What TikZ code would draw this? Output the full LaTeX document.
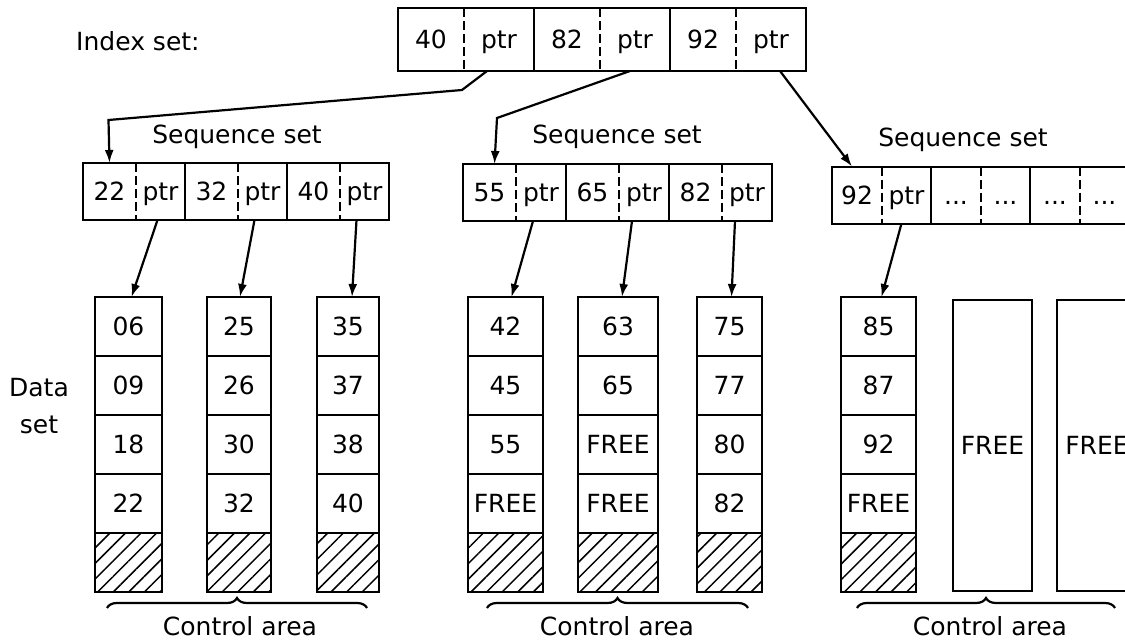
\documentclass[tikz,border=0pt]{standalone}
\usepackage{fontspec}
\setmainfont{DejaVu Sans}
\usetikzlibrary{arrows.meta,positioning,patterns.meta,decorations.pathreplacing}
\tikzset{
  every node/.style={font=\fontsize{25}{30}\selectfont},
  setlabel/.style={font=\fontsize{25}{37}\selectfont,align=center,inner sep=0pt},
  keycell/.style={inner sep=0pt,outer sep=0pt,minimum height=57pt,text height=18pt,text depth=0pt},
  recbox/.style={line width=2pt},
  divider/.style={line width=1.3pt,dash pattern=on 9pt off 4pt},
  datacell/.style={draw,line width=2pt,inner sep=0pt,outer sep=0pt,minimum height=59pt,text height=18pt,text depth=0pt},
  ctrlcell/.style={datacell,pattern={Lines[angle=45,distance=11pt,line width=1.5pt]}},
  freecell/.style={datacell,minimum height=291pt},
  ptrarrow/.style={-{Latex[length=13pt,width=9pt]},line width=2.2pt},
  ctrlbrace/.style={decorate,decoration={brace,amplitude=10pt},line width=2.2pt},
}
% key | ptr record: name, x, y, key width, ptr width, key, ptr text
\newcommand{\record}[7]{%
  \node[keycell,minimum width=#4,anchor=west] (#1k) at (#2,#3) {#6};
  \node[keycell,minimum width=#5,right=0pt of #1k] (#1p) {#7};
  \draw[recbox] (#1k.north west) rectangle (#1p.south east);
  \draw[divider] (#1k.north east) -- (#1k.south east);
}
% data column: name, x, width, four records, then the control part
\newcommand{\datacol}[7]{%
  \node[datacell,minimum width=#3] (#1-1) at (#2,326.5) {#4};
  \node[datacell,minimum width=#3,below=0pt of #1-1] (#1-2) {#5};
  \node[datacell,minimum width=#3,below=0pt of #1-2] (#1-3) {#6};
  \node[datacell,minimum width=#3,below=0pt of #1-3] (#1-4) {#7};
  \node[ctrlcell,minimum width=#3,below=0pt of #1-4] (#1-c) {};
}

\begin{document}
\begin{tikzpicture}[x=1pt,y=-1pt]
  \useasboundingbox (0,0) rectangle (1125,643);
  \clip (0,0) rectangle (1125,643);

  % Index set
  \node[setlabel,anchor=base west] (ixlabel) at (76,50) {Index set:};
  \begin{scope}[keycell/.append style={minimum height=63pt}]
    \record{ix1}{398}{39.5}{66}{70}{40}{ptr}
    \record{ix2}{534}{39.5}{66}{70}{82}{ptr}
    \record{ix3}{670}{39.5}{66}{70}{92}{ptr}
  \end{scope}

  % Sequence sets
  \node[setlabel,anchor=base] (salabel) at (237,143) {Sequence set};
  \record{sa1}{83}{191.5}{53}{49}{22}{ptr}
  \record{sa2}{185}{191.5}{53}{49}{32}{ptr}
  \record{sa3}{287}{191.5}{53}{49}{40}{ptr}

  \node[setlabel,anchor=base] (sblabel) at (617,143) {Sequence set};
  \record{sb1}{463}{192.5}{53}{50}{55}{ptr}
  \record{sb2}{566}{192.5}{53}{50}{65}{ptr}
  \record{sb3}{669}{192.5}{53}{50}{82}{ptr}

  \node[setlabel,anchor=base] (sclabel) at (963,146) {Sequence set};
  \record{sc1}{832}{195}{50}{49}{92}{ptr}
  \record{sc2}{931}{195}{50}{49}{...}{...}
  \record{sc3}{1030}{195}{50}{49}{...}{...}

  % Data set
  \node[setlabel] (dslabel) at (39,406) {Data\\set};
  \datacol{da}{128.5}{67}{06}{09}{18}{22}
  \datacol{db}{239}{64}{25}{26}{30}{32}
  \datacol{dc}{348}{62}{35}{37}{38}{40}
  \datacol{dd}{505.5}{75}{42}{45}{55}{FREE}
  \datacol{de}{618}{80}{63}{65}{FREE}{FREE}
  \datacol{df}{729.5}{65}{75}{77}{80}{82}
  \datacol{dg}{878.5}{75}{85}{87}{92}{FREE}
  \node[freecell,minimum width=79pt] (dh) at (992.5,445.5) {FREE};
  \node[freecell,minimum width=80pt] (di) at (1097,445.5) {FREE};

  % pointers
  \coordinate (kneeA) at (108.5,120);
  \coordinate (kneeB) at (497,118);
  \draw[ptrarrow] ([xshift=-12pt]ix1p.south) -- ++(-25,19) -- (kneeA) -- (sa1k.north);
  \draw[ptrarrow] ([xshift=-5pt]ix2p.south) -- (kneeB) -- ([xshift=5pt]sb1k.north);
  \draw[ptrarrow] ([xshift=9pt]ix3p.south) -- ([xshift=-5pt]sc1k.north);

  \draw[ptrarrow] ([xshift=-3pt]sa1p.south) -- ([xshift=3pt]da-1.north);
  \draw[ptrarrow] ([xshift=-8pt]sa2p.south) -- ([xshift=1pt]db-1.north);
  \draw[ptrarrow] ([xshift=-8pt]sa3p.south) -- ([xshift=4pt]dc-1.north);
  \draw[ptrarrow] ([xshift=-8pt]sb1p.south) -- ([xshift=6pt]dd-1.north);
  \draw[ptrarrow] ([xshift=-12pt]sb2p.south) -- ([xshift=4pt]de-1.north);
  \draw[ptrarrow] ([xshift=-12pt]sb3p.south) -- ([xshift=2pt]df-1.north);
  \draw[ptrarrow] ([xshift=-5pt]sc1p.south) -- ([xshift=3pt]dg-1.north);

  % Control areas
  \coordinate (brA1) at (107,608);
  \coordinate (brA2) at (367,608);
  \coordinate (brB1) at (487,608);
  \coordinate (brB2) at (748,608);
  \coordinate (brC1) at (857,608);
  \coordinate (brC2) at (1115,608);
  \draw[ctrlbrace] (brA1) -- (brA2);
  \draw[ctrlbrace] (brB1) -- (brB2);
  \draw[ctrlbrace] (brC1) -- (brC2);
  \node[setlabel,anchor=base] (caA) at (240,635) {Control area};
  \node[setlabel,anchor=base] (caB) at (617,635) {Control area};
  \node[setlabel,anchor=base] (caC) at (990,635) {Control area};
\end{tikzpicture}
\end{document}
